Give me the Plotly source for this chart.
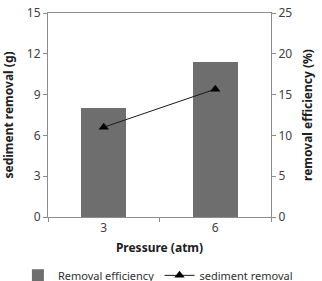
import plotly.graph_objects as go

pressure = [3, 6]
removal_efficiency = [13.3, 19.0]   # %, right axis
sediment_removal = [6.6, 9.4]       # g, left axis
left_ticks = [0, 3, 6, 9, 12, 15]
right_ticks = [0, 5, 10, 15, 20, 25]

FONT = "Noto Sans"
AX = "#8c8c8c"
TXT = "#404040"

fig = go.Figure()
fig.add_trace(go.Bar(
    x=pressure, y=removal_efficiency, name="Removal efficiency",
    marker=dict(color="#6e6e6e", line=dict(width=0)), width=1.2,
    yaxis="y", legend="legend",
))
fig.add_trace(go.Scatter(
    x=pressure, y=sediment_removal, name="sediment removal",
    mode="lines+markers", line=dict(color="#1a1a1a", width=1),
    marker=dict(symbol="triangle-up", size=9, color="#000000"),
    yaxis="y2", legend="legend2",
))

leg_common = dict(orientation="h", xanchor="left", y=-0.215, yanchor="top",
                  font=dict(size=11, color="#303030"), bgcolor="rgba(0,0,0,0)")

fig.update_layout(
    width=322, height=281,
    margin=dict(l=48, r=51, t=13, b=64, autoexpand=False),
    paper_bgcolor="white", plot_bgcolor="white",
    font=dict(family=FONT, size=12, color=TXT),
    showlegend=True,
    legend=dict(x=-0.135, **leg_common),
    legend2=dict(x=0.5, **leg_common),
    bargap=0,
    xaxis=dict(
        range=[1.5, 7.5], tickvals=pressure, ticktext=[str(p) for p in pressure],
        ticks="", showgrid=False, zeroline=False,
        showline=True, linecolor=AX, linewidth=1, mirror=True,
        minor=dict(tickvals=[1.5, 4.5, 7.5], ticks="outside", ticklen=4, tickcolor=AX),
        title=dict(text="<b>Pressure (atm)</b>", font=dict(size=12, color="#202020"), standoff=8),
        tickfont=dict(size=12, color=TXT),
    ),
    yaxis=dict(
        side="right", range=[0, 25], tickvals=right_ticks,
        ticks="outside", ticklen=4, tickcolor=AX,
        showgrid=False, zeroline=False, showline=True, linecolor=AX, linewidth=1,
        title=dict(text="<b>removal efficiency (%)</b>", font=dict(size=12, color="#202020"), standoff=12),
        tickfont=dict(size=12, color=TXT),
    ),
    yaxis2=dict(
        overlaying="y", side="left", range=[0, 15], tickvals=left_ticks,
        ticks="outside", ticklen=4, tickcolor=AX,
        showgrid=False, zeroline=False, showline=True, linecolor=AX, linewidth=1,
        title=dict(text="<b>sediment removal (g)</b>", font=dict(size=12, color="#202020"), standoff=12),
        tickfont=dict(size=12, color=TXT),
    ),
)

fig.write_html("out.html")
